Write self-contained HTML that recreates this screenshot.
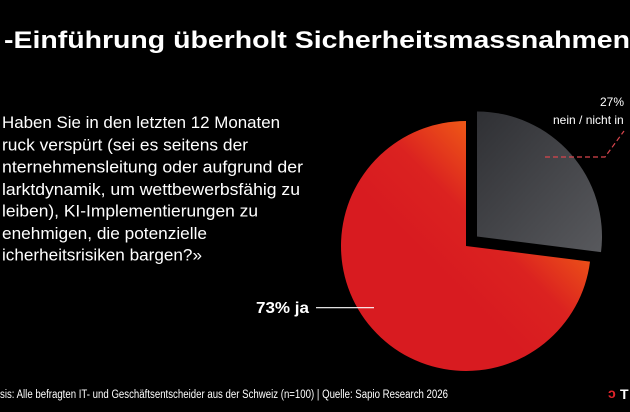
<!DOCTYPE html>
<html><head><meta charset="utf-8"><style>
html,body{margin:0;padding:0;background:#000;}
svg{display:block;font-family:"Liberation Sans",sans-serif;}
</style></head><body>
<svg width="630" height="412" viewBox="0 0 630 412">
<defs>
<linearGradient id="gRed" x1="0.95" y1="0.05" x2="0.4" y2="0.6">
<stop offset="0" stop-color="#fb8f0d"/><stop offset="0.35" stop-color="#ef5a16"/><stop offset="0.7" stop-color="#db2220"/><stop offset="1" stop-color="#d81b20"/>
</linearGradient>
<linearGradient id="gGrey" x1="0" y1="0" x2="1" y2="1">
<stop offset="0" stop-color="#2f3034"/><stop offset="1" stop-color="#58595d"/>
</linearGradient>
</defs>
<text x="4" y="48" font-size="24" font-weight="bold" fill="#fff" textLength="626" lengthAdjust="spacingAndGlyphs">-Einführung überholt Sicherheitsmassnahmen</text>
<g font-size="17" fill="#fff">
<text x="2" y="128" textLength="278" lengthAdjust="spacingAndGlyphs">Haben Sie in den letzten 12 Monaten</text>
<text x="2" y="150.5" textLength="246" lengthAdjust="spacingAndGlyphs">ruck verspürt (sei es seitens der</text>
<text x="2" y="172.5" textLength="301" lengthAdjust="spacingAndGlyphs">nternehmensleitung oder aufgrund der</text>
<text x="2" y="195" textLength="298" lengthAdjust="spacingAndGlyphs">larktdynamik, um wettbewerbsfähig zu</text>
<text x="2" y="216.5" textLength="256" lengthAdjust="spacingAndGlyphs">leiben), KI-Implementierungen zu</text>
<text x="2" y="239" textLength="205" lengthAdjust="spacingAndGlyphs">enehmigen, die potenzielle</text>
<text x="2" y="260.5" textLength="200" lengthAdjust="spacingAndGlyphs">icherheitsrisiken bargen?»</text>
</g>
<g id="pie"></g>
<text x="256" y="313" font-size="16" font-weight="bold" fill="#fff" textLength="53" lengthAdjust="spacingAndGlyphs">73% ja</text>
<line x1="316" y1="307.7" x2="374" y2="307.7" stroke="#fff" stroke-width="1.2"/>
<text x="612" y="106" font-size="12" fill="#fff" text-anchor="middle">27%</text>
<text x="553" y="124" font-size="12" fill="#fff">nein / nicht in</text>
<polyline points="545,157 605,157 624,131" fill="none" stroke="#d9454d" stroke-width="1.2" stroke-dasharray="5,3"/>
<text x="0" y="398" font-size="11.5" fill="#fff" textLength="448" lengthAdjust="spacingAndGlyphs">sis: Alle befragten IT- und Geschäftsentscheider aus der Schweiz (n=100) | Quelle: Sapio Research 2026</text>
<text x="608" y="398" font-size="14" font-weight="bold" fill="#e1242b">ↄ</text>
<text x="620" y="399" font-size="14" font-weight="bold" fill="#fff">T</text>
<script>
const categories = ["nein / nicht in", "ja"];
const values = [27, 73];
const fills = ["url(#gGrey)", "url(#gRed)"];
const offsets = [[11, -9.5], [0, 0]];
const cx = 466, cy = 246, r = 125;
const g = document.getElementById('pie');
const total = values.reduce((a, b) => a + b, 0);
let a0 = 0;
values.forEach((v, i) => {
  const a1 = a0 + v / total * Math.PI * 2;
  const ox = cx + offsets[i][0], oy = cy + offsets[i][1];
  const x0 = ox + r * Math.sin(a0), y0 = oy - r * Math.cos(a0);
  const x1 = ox + r * Math.sin(a1), y1 = oy - r * Math.cos(a1);
  const large = (a1 - a0) > Math.PI ? 1 : 0;
  const p = document.createElementNS('http://www.w3.org/2000/svg', 'path');
  p.setAttribute('d', `M${ox},${oy} L${x0},${y0} A${r},${r} 0 ${large} 1 ${x1},${y1} Z`);
  p.setAttribute('fill', fills[i]);
  
  
  g.appendChild(p);
  a0 = a1;
});
</script>
</svg>
</body></html>
